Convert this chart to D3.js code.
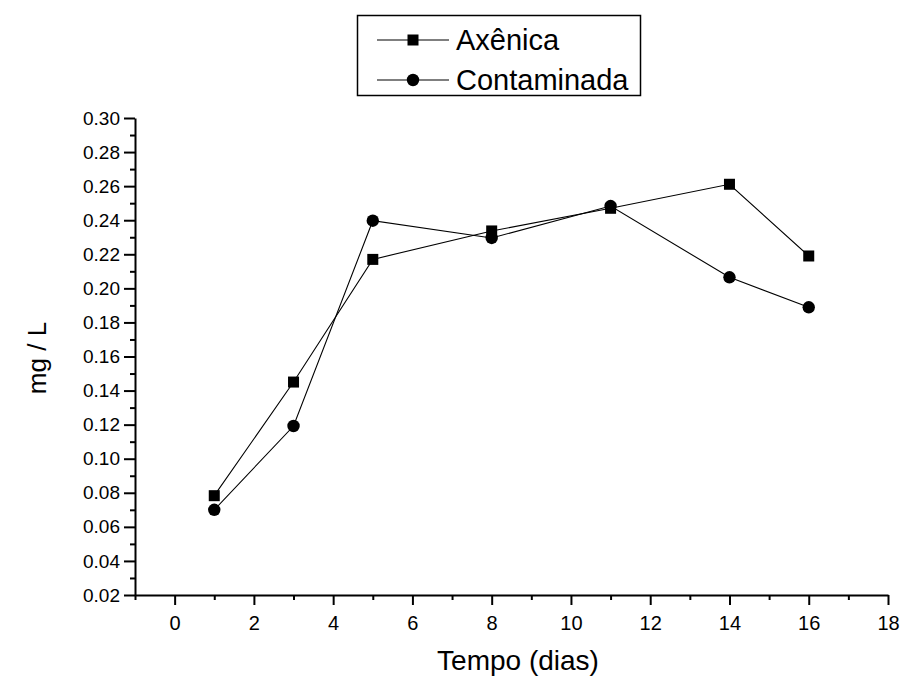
<!DOCTYPE html>
<html lang="pt">
  <head>
    <meta charset="utf-8">
    <title>Axênica x Contaminada</title>
    <script src="https://d3js.org/d3.v7.min.js" charset="utf-8"></script>
    <style type="text/css">
      body {
        margin: 0;
        background: white;
        font-family: "Liberation Sans", Arial, sans-serif;
      }
    </style>
  </head>
  <body>
    <script>
      var width = 901;
      var height = 677;

      // days sampled and measured concentration (mg/L)
      var dias = [1, 3, 5, 8, 11, 14, 16];
      var axenica = [0.0783, 0.145, 0.217, 0.2337, 0.247, 0.2611, 0.219];
      var contaminada = [0.070, 0.1192, 0.2397, 0.2296, 0.2483, 0.2065, 0.1889];
      var xTicks = [0, 2, 4, 6, 8, 10, 12, 14, 16, 18];
      var yTicks = [0.02, 0.04, 0.06, 0.08, 0.10, 0.12, 0.14, 0.16, 0.18, 0.20, 0.22, 0.24, 0.26, 0.28, 0.30];

      var svg = d3.select("body")
        .append("svg")
        .attr("width", width)
        .attr("height", height);

      // scales
      var x = d3.scaleLinear().domain([-1, 18]).range([135, 888]);
      var y = d3.scaleLinear().domain([0.02, 0.30]).range([595, 118]);

      // minor ticks (outward, shorter)
      var xMinor = d3.range(-1, 18, 2);
      var yMinor = d3.range(0.03, 0.30, 0.02);

      svg.append("g")
        .attr("transform", "translate(0,595)")
        .call(d3.axisBottom(x).tickValues(xMinor).tickSize(5).tickFormat(""))
        .call(function(g) { g.select(".domain").remove(); })
        .selectAll("line").attr("stroke-width", 2);

      svg.append("g")
        .attr("transform", "translate(135,0)")
        .call(d3.axisLeft(y).tickValues(yMinor).tickSize(5).tickFormat(""))
        .call(function(g) { g.select(".domain").remove(); })
        .selectAll("line").attr("stroke-width", 2);

      // major ticks and labels
      var xAxis = svg.append("g")
        .attr("transform", "translate(0,595)")
        .call(d3.axisBottom(x).tickValues(xTicks).tickSize(10).tickSizeOuter(0).tickFormat(d3.format("d")));
      xAxis.select(".domain").attr("stroke-width", 2);
      xAxis.selectAll(".tick line").attr("stroke-width", 2);
      xAxis.selectAll(".tick text")
        .attr("y", 35)
        .attr("dy", null)
        .attr("fill", "#000")
        .style("font-size", "20px")
        .style("font-family", "'Liberation Sans', Arial, sans-serif");

      var yAxis = svg.append("g")
        .attr("transform", "translate(135,0)")
        .call(d3.axisLeft(y).tickValues(yTicks).tickSize(11).tickSizeOuter(0).tickFormat(d3.format(".2f")));
      yAxis.select(".domain").attr("stroke-width", 2);
      yAxis.selectAll(".tick line").attr("stroke-width", 2);
      yAxis.selectAll(".tick text")
        .attr("x", -15)
        .attr("fill", "#000")
        .style("font-size", "19px")
        .style("font-family", "'Liberation Sans', Arial, sans-serif");

      // axis titles
      svg.append("text")
        .attr("x", 518)
        .attr("y", 670)
        .attr("text-anchor", "middle")
        .style("font-size", "28px")
        .text("Tempo (dias)");

      svg.append("text")
        .attr("transform", "translate(46,358) rotate(-90)")
        .attr("text-anchor", "middle")
        .style("font-size", "26px")
        .text("mg / L");

      var line = d3.line()
        .x(function(d) { return x(d[0]); })
        .y(function(d) { return y(d[1]); });

      var serieA = dias.map(function(d, i) { return [d, axenica[i]]; });
      var serieC = dias.map(function(d, i) { return [d, contaminada[i]]; });

      [serieA, serieC].forEach(function(s) {
        svg.append("path")
          .datum(s)
          .attr("fill", "none")
          .attr("stroke", "#000")
          .attr("stroke-width", 1.1)
          .attr("d", line);
      });

      var sq = 11;
      svg.selectAll("rect.axenica")
        .data(serieA)
        .enter()
        .append("rect")
        .attr("class", "axenica")
        .attr("x", function(d) { return x(d[0]) - sq / 2; })
        .attr("y", function(d) { return y(d[1]) - sq / 2; })
        .attr("width", sq)
        .attr("height", sq)
        .attr("fill", "#000");

      svg.selectAll("circle.contaminada")
        .data(serieC)
        .enter()
        .append("circle")
        .attr("class", "contaminada")
        .attr("cx", function(d) { return x(d[0]); })
        .attr("cy", function(d) { return y(d[1]); })
        .attr("r", 6.2)
        .attr("fill", "#000");

      // legend
      var legend = svg.append("g");
      legend.append("rect")
        .attr("x", 357.5)
        .attr("y", 15.5)
        .attr("width", 283)
        .attr("height", 80)
        .attr("fill", "white")
        .attr("stroke", "#000")
        .attr("stroke-width", 1.5);

      var itens = [
        { nome: "Axênica", forma: "square", yy: 40 },
        { nome: "Contaminada", forma: "circle", yy: 80 }
      ];

      itens.forEach(function(it) {
        legend.append("line")
          .attr("x1", 377).attr("x2", 449)
          .attr("y1", it.yy).attr("y2", it.yy)
          .attr("stroke", "#000")
          .attr("stroke-width", 1.1);
        if (it.forma === "square") {
          legend.append("rect")
            .attr("x", 413 - sq / 2).attr("y", it.yy - sq / 2)
            .attr("width", sq).attr("height", sq)
            .attr("fill", "#000");
        } else {
          legend.append("circle")
            .attr("cx", 413).attr("cy", it.yy).attr("r", 6.2)
            .attr("fill", "#000");
        }
        legend.append("text")
          .attr("x", 456)
          .attr("y", it.yy + 10)
          .style("font-size", "29px")
          .text(it.nome);
      });
    </script>
  </body>
</html>
